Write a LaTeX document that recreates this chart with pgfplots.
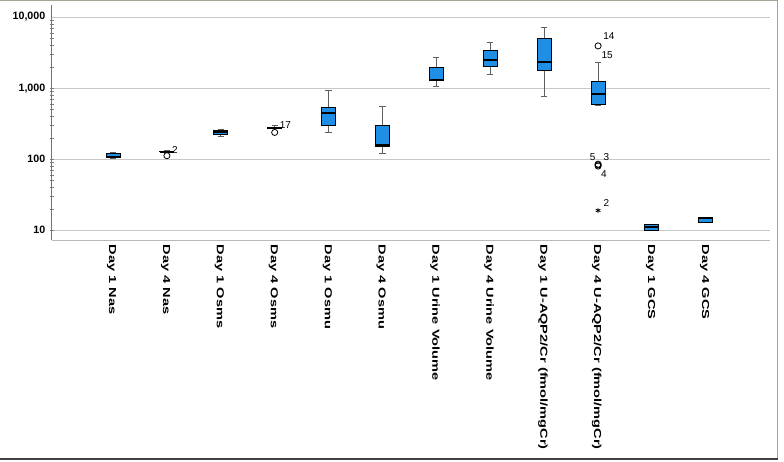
\documentclass[border=0pt]{standalone}
\usepackage{fontspec}
\setmainfont{Liberation Sans}
\usepackage{graphicx}
\usepackage{pgfplots}
\pgfplotsset{compat=1.18}
\usepgfplotslibrary{statistics}

\definecolor{boxblue}{RGB}{31,143,229}
\definecolor{whisk}{RGB}{95,95,95}
\definecolor{gridc}{RGB}{200,200,200}
\definecolor{framec}{RGB}{165,165,150}

% SPSS stretches the category labels along the text
\newcommand\lbl[1]{\scalebox{1.44}[1]{#1}}

\begin{document}
\begin{tikzpicture}
\path[use as bounding box] (0,0) rectangle (588pt,-345.75pt);
\begin{axis}[
  at={(39pt,-180pt)}, anchor=south west,
  scale only axis, width=538.5pt, height=176.25pt,
  ymode=log, ymin=7.29, ymax=14790,
  xmin=-1.132, xmax=12.19,
  axis lines=left,
  axis line style={-},
  x axis line style={draw=gray!55, line width=0.75pt},
  y axis line style={draw=gray!90!black, line width=0.75pt},
  major tick length=0pt,
  ytick={10,100,1000,10000},
  yticklabels={10,100,{1,000},{10,000}},
  yticklabel style={font=\bfseries\fontsize{8}{9}\selectfont, xshift=-1.5pt},
  ymajorgrids,
  grid style={draw=gridc, line width=0.75pt},
  xtick={0,...,11},
  xticklabels={\lbl{Day 1 Nas},\lbl{Day 4 Nas},\lbl{Day 1 Osms},\lbl{Day 4 Osms},
    \lbl{Day 1 Osmu},\lbl{Day 4 Osmu},\lbl{Day 1 Urine Volume},\lbl{Day 4 Urine Volume},
    \lbl{Day 1 U-AQP2/Cr (fmol/mgCr)},\lbl{Day 4 U-AQP2/Cr (fmol/mgCr)},
    \lbl{Day 1 GCS},\lbl{Day 4 GCS}},
  xticklabel style={font=\bfseries\fontsize{7.6}{8}\selectfont, rotate=-90, anchor=west, yshift=-1pt},
  clip=false,
  boxplot/draw direction=y,
  boxplot/box extend=0.26,
  boxplot/whisker extend=0.115,
  boxplot/every box/.style={draw=black, fill=boxblue, line width=0.75pt},
  boxplot/every whisker/.style={draw=whisk, line width=0.75pt},
  boxplot/every median/.style={draw=black, line width=1.6pt},
  every axis plot/.append style={mark=o, mark size=2.3, mark options={draw=black, line width=0.6pt}},
]
% Day 1 Nas
\addplot[boxplot prepared={draw position=0,
  lower whisker=102, lower quartile=104, median=108, upper quartile=120, upper whisker=124}]
  coordinates {};
% Day 4 Nas
\addplot[boxplot prepared={draw position=1,
  lower whisker=126, lower quartile=127, median=128, upper quartile=129, upper whisker=132}]
  coordinates {(1,112)};
% Day 1 Osms
\addplot[boxplot prepared={draw position=2,
  lower whisker=209, lower quartile=222, median=238, upper quartile=252, upper whisker=265}]
  coordinates {};
% Day 4 Osms
\addplot[boxplot prepared={draw position=3,
  lower whisker=268, lower quartile=271, median=276, upper quartile=282, upper whisker=294}]
  coordinates {(3,238)};
% Day 1 Osmu
\addplot[boxplot prepared={draw position=4,
  lower whisker=239, lower quartile=297, median=448, upper quartile=535, upper whisker=914}]
  coordinates {};
% Day 4 Osmu
\addplot[boxplot prepared={draw position=5,
  lower whisker=119, lower quartile=149, median=160, upper quartile=297, upper whisker=558}]
  coordinates {};
% Day 1 Urine Volume
\addplot[boxplot prepared={draw position=6,
  lower whisker=1045, lower quartile=1265, median=1319, upper quartile=1950, upper whisker=2680}]
  coordinates {};
% Day 4 Urine Volume
\addplot[boxplot prepared={draw position=7,
  lower whisker=1561, lower quartile=2037, median=2466, upper quartile=3347, upper whisker=4318}]
  coordinates {};
% Day 1 U-AQP2/Cr
\addplot[boxplot prepared={draw position=8,
  lower whisker=766, lower quartile=1795, median=2360, upper quartile=5060, upper whisker=7110}]
  coordinates {};
% Day 4 U-AQP2/Cr
\addplot[boxplot prepared={draw position=9,
  lower whisker=575, lower quartile=579, median=817, upper quartile=1226, upper whisker=2285}]
  coordinates {(9,3930) (9,85) (9,83) (9,80)};
\addplot[only marks, mark=asterisk, mark size=2, mark options={draw=black, line width=0.6pt}]
  coordinates {(9,19)};
% Day 1 GCS
\addplot[boxplot/every whisker/.style={draw=none}, boxplot prepared={draw position=10,
  lower whisker=10, lower quartile=10, median=11, upper quartile=12, upper whisker=12}]
  coordinates {};
% Day 4 GCS
\addplot[boxplot/every whisker/.style={draw=none}, boxplot prepared={draw position=11,
  lower whisker=13, lower quartile=13, median=15, upper quartile=15, upper whisker=15}]
  coordinates {};

\node[font=\fontsize{7.5}{8}\selectfont, inner sep=0pt] at (axis cs:1.15,136) {2};
\node[font=\fontsize{7.5}{8}\selectfont, inner sep=0pt] at (axis cs:3.20,307) {17};
\node[font=\fontsize{7.5}{8}\selectfont, inner sep=0pt] at (axis cs:9.20,5445) {14};
\node[font=\fontsize{7.5}{8}\selectfont, inner sep=0pt] at (axis cs:9.17,2871) {15};
\node[font=\fontsize{7.5}{8}\selectfont, inner sep=0pt] at (axis cs:8.90,106) {5};
\node[font=\fontsize{7.5}{8}\selectfont, inner sep=0pt] at (axis cs:9.155,106) {3};
\node[font=\fontsize{7.5}{8}\selectfont, inner sep=0pt] at (axis cs:9.11,61.8) {4};
\node[font=\fontsize{7.5}{8}\selectfont, inner sep=0pt] at (axis cs:9.155,24.2) {2};
\end{axis}
\draw[framec, line width=0.75pt] (0,-0.375pt) -- (583.1pt,-0.375pt) -- (583.1pt,-344pt);
\draw[black!75, line width=1.1pt] (0,-344.3pt) -- (583.6pt,-344.3pt);
\end{tikzpicture}
\end{document}
